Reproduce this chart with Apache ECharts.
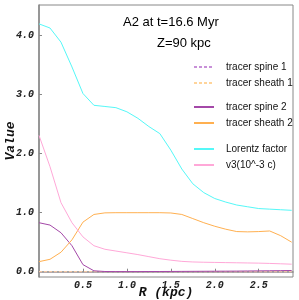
<!DOCTYPE html>
<html><head><meta charset="utf-8">
<script src="https://cdn.jsdelivr.net/npm/echarts@6/dist/echarts.min.js"></script>
<style>html,body{margin:0;padding:0;background:#fff}#c{width:299px;height:300px}</style>
</head><body><div id="c"></div>
<script>
const R = [0, 0.125, 0.25, 0.375, 0.5, 0.625, 0.75, 0.875, 1.0, 1.125, 1.25, 1.375, 1.5, 1.625, 1.75, 1.875, 2.0, 2.125, 2.25, 2.375, 2.5, 2.625, 2.75, 2.875];
const spine1 = [0,0,0,0,0,0,0,0,0,0,0,0,0,0,0,0,0,0,0,0,0,0,0,0];
const sheath1 = [0,0,0,0,0,0,0,0,0,0,0,0,0,0,0,0,0,0,0,0,0,0,0,0];
const spine2 = [0.83, 0.79, 0.66, 0.44, 0.12, 0.015, 0.003, 0.002, 0.002, 0.002, 0.003, 0.003, 0.004, 0.005, 0.006, 0.007, 0.008, 0.009, 0.01, 0.012, 0.014, 0.016, 0.018, 0.02];
const sheath2 = [0.17, 0.21, 0.33, 0.54, 0.84, 0.97, 0.997, 1.0, 1.0, 1.0, 1.0, 1.0, 0.995, 0.97, 0.90, 0.83, 0.77, 0.72, 0.68, 0.675, 0.68, 0.69, 0.61, 0.50];
const lorentz = [4.2, 4.13, 3.89, 3.47, 3.02, 2.82, 2.80, 2.78, 2.71, 2.60, 2.46, 2.34, 2.06, 1.74, 1.49, 1.34, 1.24, 1.18, 1.13, 1.10, 1.07, 1.06, 1.05, 1.04];
const v3 = [2.31, 1.78, 1.17, 0.83, 0.59, 0.44, 0.38, 0.35, 0.32, 0.29, 0.255, 0.22, 0.195, 0.175, 0.165, 0.16, 0.157, 0.154, 0.151, 0.148, 0.145, 0.14, 0.134, 0.127];
const xTicks = [0.5, 1.0, 1.5, 2.0, 2.5];
const yTicks = [0, 1, 2, 3, 4];
const names = ['tracer spine 1','tracer sheath 1','tracer spine 2','tracer sheath 2','Lorentz factor','v3(10^-3 c)'];

const pair = a => R.map((r,i)=>[r,a[i]]);
const tickFont = {fontFamily:'Liberation Mono', fontWeight:'bold', fontStyle:'italic', fontSize:10, color:'#222'};
const nameFont = {fontFamily:'Liberation Mono', fontWeight:'bold', fontStyle:'italic', fontSize:13, color:'#111'};
const legendText = {fontFamily:'Liberation Sans', fontSize:10, color:'#111', lineHeight:12, padding:[0,0,0,7]};
function mkLegend(data, top){
  return {data, orient:'vertical', left:193, top, padding:0, itemGap:4, itemWidth:20, itemHeight:8,
    itemStyle:{opacity:0}, textStyle:legendText, selectedMode:false};
}
function line(name, data, color, dashed){
  return {name, type:'line', data:pair(data), symbol:'none', animation:false,
    lineStyle:{color, width:1, type: dashed ? [3,2] : 'solid'}, itemStyle:{color}};
}
const chart = echarts.init(document.getElementById('c'));
chart.setOption({
  backgroundColor:'#fff',
  animation:false,
  title:[
    {text:'A2 at t=16.6 Myr', left:123, top:16, padding:0, textStyle:{fontFamily:'Liberation Sans', fontWeight:'normal', fontSize:13, color:'#000'}},
    {text:'Z=90 kpc', left:157, top:37, padding:0, textStyle:{fontFamily:'Liberation Sans', fontWeight:'normal', fontSize:13, color:'#000'}}
  ],
  legend:[mkLegend(names.slice(0,2),61), mkLegend(names.slice(2,4),101), mkLegend(names.slice(4,6),143)],
  grid:{left:39, right:6, top:5, bottom:23, show:true, borderColor:'#888', borderWidth:1, outerBoundsMode:'none', containLabel:false},
  xAxis:{type:'value', min:0, max:2.89, name:'R (kpc)', nameLocation:'middle', nameGap:9, nameMoveOverlap:false, nameTextStyle:nameFont,
    axisLine:{lineStyle:{color:'#888', width:1.5}}, splitLine:{show:false},
    axisTick:{inside:true, length:3, customValues:xTicks, lineStyle:{color:'#888'}},
    axisLabel:{customValues:xTicks, formatter:v=>v.toFixed(1), margin:3, ...tickFont}},
  yAxis:{type:'value', min:-0.09, max:4.52, name:'Value', nameLocation:'middle', nameGap:22, nameMoveOverlap:false, nameTextStyle:nameFont,
    axisLine:{show:true, lineStyle:{color:'#888', width:1.5}}, splitLine:{show:false},
    axisTick:{show:true, inside:true, length:3, customValues:yTicks, lineStyle:{color:'#888'}},
    axisLabel:{customValues:yTicks, formatter:v=>v.toFixed(1), margin:5, ...tickFont}},
  series:[
    line(names[0], spine1, '#c890d8', true),
    line(names[1], sheath1, '#ffd49a', true),
    line(names[2], spine2, '#a448a8', false),
    line(names[3], sheath2, '#ffb050', false),
    line(names[4], lorentz, '#55f8f8', false),
    line(names[5], v3, '#ffa8d8', false)
  ]
});
</script></body></html>
